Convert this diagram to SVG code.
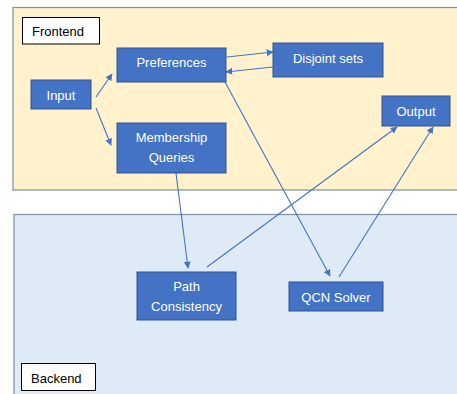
<svg xmlns="http://www.w3.org/2000/svg" width="457" height="394" viewBox="0 0 457 394">
<style>
.panel-f{fill:#FFF2CC;stroke:#7F8FA6;stroke-width:1.2}
.panel-b{fill:#DEEBF7;stroke:#7F8FA6;stroke-width:1.2}
.label-box{fill:#FFFFFF;stroke:#000000;stroke-width:1}
.label{font-family:"Liberation Sans",Arial,sans-serif;font-size:13px;fill:#000000}
.node rect{fill:#4472C4;stroke:#2F528F;stroke-width:1}
.node text{font-family:"Liberation Sans",Arial,sans-serif;font-size:13px;fill:#FFFFFF;text-anchor:middle}
.conn line{stroke:#4472C4;stroke-width:1.1;marker-end:url(#ah)}
</style>
<defs>
<marker id="ah" viewBox="0 0 10 10" refX="9" refY="5" markerWidth="7" markerHeight="7" markerUnits="userSpaceOnUse" orient="auto">
<path d="M0,0 L10,5 L0,10 z" fill="#4472C4"/>
</marker>
</defs>
<rect width="457" height="394" fill="#FFFFFF"/>
<g id="frontend-panel">
<rect class="panel-f" x="13" y="7.5" width="450" height="182.5"/>
<rect class="label-box" x="22.5" y="17.5" width="77" height="26.5"/>
<text class="label" x="32" y="36">Frontend</text>
</g>
<g id="backend-panel">
<rect class="panel-b" x="14" y="214.5" width="450" height="190"/>
<rect class="label-box" x="21.5" y="363.5" width="74" height="27"/>
<text class="label" x="31" y="383">Backend</text>
</g>
<g class="conn" id="connectors">
<line x1="96" y1="97" x2="112" y2="74"/>
<line x1="96" y1="108" x2="111" y2="145"/>
<line x1="227" y1="57" x2="273" y2="52"/>
<line x1="273" y1="67" x2="226" y2="72"/>
<line x1="225" y1="82" x2="330" y2="276"/>
<line x1="176" y1="173" x2="188" y2="268"/>
<line x1="207" y1="267" x2="397" y2="127"/>
<line x1="339" y1="277" x2="433" y2="127"/>
</g>
<g class="node" id="input">
<rect x="31" y="80" width="60" height="29"/>
<text x="61" y="99.5">Input</text>
</g>
<g class="node" id="preferences">
<rect x="117" y="48" width="109" height="34"/>
<text x="171.5" y="67">Preferences</text>
</g>
<g class="node" id="membership">
<rect x="117" y="123" width="109" height="50"/>
<text x="171.5" y="142">Membership</text>
<text x="171.5" y="161.5">Queries</text>
</g>
<g class="node" id="disjoint">
<rect x="273" y="43" width="110" height="34"/>
<text x="328" y="62.5">Disjoint sets</text>
</g>
<g class="node" id="output">
<rect x="382" y="96" width="68" height="30"/>
<text x="416" y="115.5">Output</text>
</g>
<g class="node" id="path-consistency">
<rect x="137" y="272" width="99" height="48"/>
<text x="186.5" y="291">Path</text>
<text x="186.5" y="310.5">Consistency</text>
</g>
<g class="node" id="qcn-solver">
<rect x="289" y="282" width="94" height="29"/>
<text x="336" y="301.5">QCN Solver</text>
</g>
</svg>
